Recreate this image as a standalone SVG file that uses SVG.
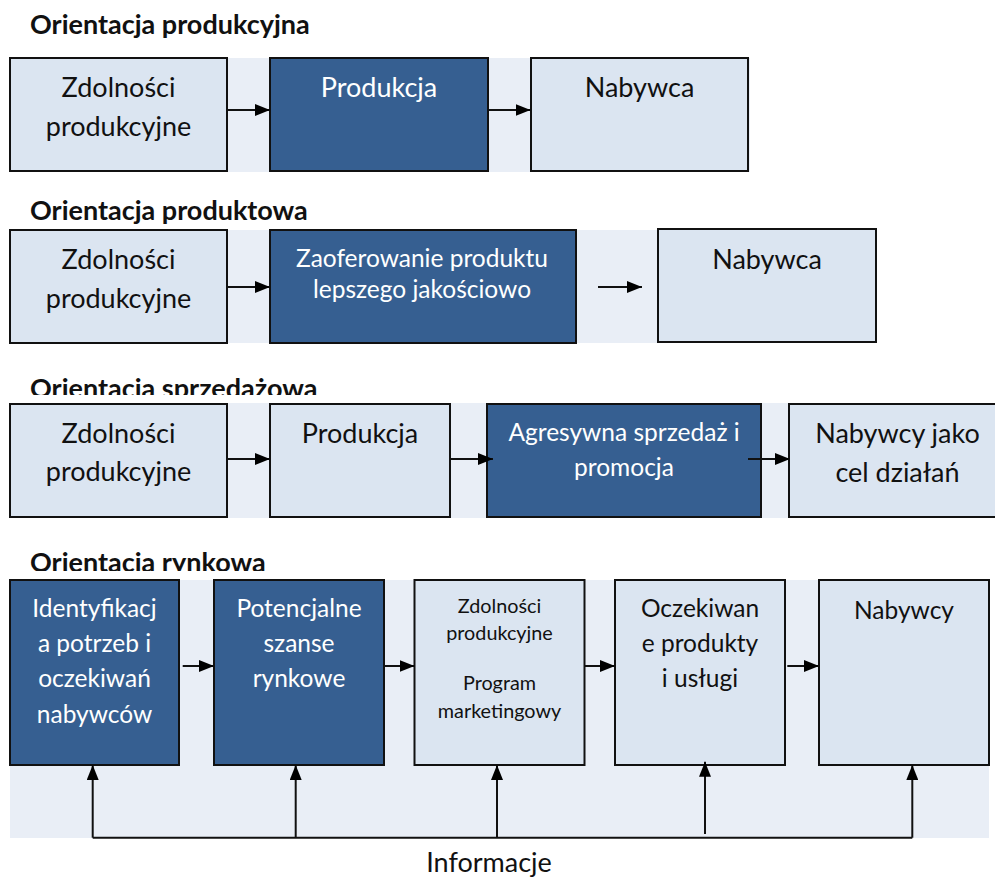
<svg xmlns="http://www.w3.org/2000/svg" width="995" height="878" viewBox="0 0 995 878">
<defs>
<style>
.band{fill:#E9EEF6}
.lt{fill:#DBE5F1;stroke:#111;stroke-width:2}
.dk{fill:#365F91;stroke:#111;stroke-width:2}
.t{font-family:Lato,"Liberation Sans",sans-serif;font-size:27px;fill:#111;text-anchor:middle}
.tw{font-family:Lato,"Liberation Sans",sans-serif;font-size:27px;fill:#fff;text-anchor:middle}
.s{font-size:24.5px}
.m{font-size:24.5px}
.xs{font-size:19.8px}
.inf{font-size:27px}
.h{font-family:Lato,"Liberation Sans",sans-serif;font-size:27px;font-weight:bold;fill:#111}
.c{stroke:#111;stroke-width:2;fill:none}
.a{marker-end:url(#ah)}
</style>
<marker id="ah" markerUnits="userSpaceOnUse" markerWidth="15" markerHeight="12" refX="15" refY="6" orient="auto">
<path d="M0,0 L15,6 L0,12 z" fill="#000"/>
</marker>
<clipPath id="c3"><rect x="0" y="360" width="995" height="35"/></clipPath>
<clipPath id="c4"><rect x="0" y="540" width="995" height="31"/></clipPath>
</defs>

<g id="section1">
<text class="h" x="30" y="34">Orientacja produkcyjna</text>
<rect class="band" x="10" y="58" width="740" height="114"/>
<g id="s1-zdolnosci"><rect class="lt" x="10" y="58" width="217" height="113"/><text class="t" x="118.5" y="97">Zdolności</text><text class="t" x="118.5" y="136">produkcyjne</text></g>
<g id="s1-produkcja"><rect class="dk" x="270" y="58" width="218" height="113"/><text class="tw" x="379" y="97">Produkcja</text></g>
<g id="s1-nabywca"><rect class="lt" x="531" y="58" width="217" height="113"/><text class="t" x="639.5" y="97">Nabywca</text></g>
</g>

<g id="section2">
<text class="h" x="30" y="220">Orientacja produktowa</text>
<rect class="band" x="10" y="230" width="866" height="113"/>
<g id="s2-zdolnosci"><rect class="lt" x="10" y="230" width="217" height="113"/><text class="t" x="118.5" y="269">Zdolności</text><text class="t" x="118.5" y="308">produkcyjne</text></g>
<g id="s2-zaoferowanie"><rect class="dk" x="270" y="230" width="306" height="113"/><text class="tw s" x="422" y="267">Zaoferowanie produktu</text><text class="tw s" x="422" y="298">lepszego jakościowo</text></g>
<g id="s2-nabywca"><rect class="lt" x="658" y="229" width="218" height="113"/><text class="t" x="767" y="269">Nabywca</text></g>
</g>

<g id="section3">
<text class="h" x="30" y="398" clip-path="url(#c3)">Orientacja sprzedażowa</text>
<rect class="band" x="10" y="403" width="985" height="115"/>
<g id="s3-zdolnosci"><rect class="lt" x="10" y="404" width="217" height="113"/><text class="t" x="118.5" y="443">Zdolności</text><text class="t" x="118.5" y="481">produkcyjne</text></g>
<g id="s3-produkcja"><rect class="lt" x="270" y="404" width="180" height="113"/><text class="t" x="360" y="443">Produkcja</text></g>
<g id="s3-agresywna"><rect class="dk" x="487" y="404" width="274" height="113"/><text class="tw s" x="624" y="441">Agresywna sprzedaż i</text><text class="tw s" x="624" y="476">promocja</text></g>
<g id="s3-nabywcy"><rect class="lt" x="789" y="404" width="220" height="113"/><text class="t" x="897.5" y="443">Nabywcy jako</text><text class="t" x="897.5" y="482">cel działań</text></g>
</g>

<g id="section4">
<text class="h" x="30" y="572" clip-path="url(#c4)">Orientacja rynkowa</text>
<rect class="band" x="10" y="580" width="979" height="258"/>
<g id="s4-identyfikacja"><rect class="dk" x="10" y="580" width="169" height="185"/><text class="tw m" x="94.5" y="617">Identyfikacj</text><text class="tw m" x="94.5" y="652">a potrzeb i</text><text class="tw m" x="94.5" y="687">oczekiwań</text><text class="tw m" x="94.5" y="723">nabywców</text></g>
<g id="s4-potencjalne"><rect class="dk" x="214" y="580" width="170" height="185"/><text class="tw m" x="299" y="617">Potencjalne</text><text class="tw m" x="299" y="652">szanse</text><text class="tw m" x="299" y="687">rynkowe</text></g>
<g id="s4-zdolnosci"><rect class="lt" x="414.5" y="580" width="170" height="185"/><text class="t xs" x="499.5" y="612.5">Zdolności</text><text class="t xs" x="499.5" y="640">produkcyjne</text><text class="t xs" x="499.5" y="690">Program</text><text class="t xs" x="499.5" y="718">marketingowy</text></g>
<g id="s4-oczekiwane"><rect class="lt" x="615" y="580" width="170" height="185"/><text class="t m" x="700" y="617">Oczekiwan</text><text class="t m" x="700" y="652">e produkty</text><text class="t m" x="700" y="687">i usługi</text></g>
<g id="s4-nabywcy"><rect class="lt" x="819" y="580" width="170" height="185"/><text class="t m" x="904" y="619">Nabywcy</text></g>
<text id="informacje" class="t inf" x="489" y="872">Informacje</text>
</g>

<g id="connectors">
<line class="c a" x1="227" y1="110" x2="270" y2="110"/>
<line class="c a" x1="488" y1="110" x2="530.5" y2="110"/>
<line class="c a" x1="227" y1="287" x2="270" y2="287"/>
<line class="c a" x1="598" y1="287" x2="642" y2="287"/>
<line class="c a" x1="227" y1="459" x2="270" y2="459"/>
<line class="c a" x1="451" y1="459" x2="493" y2="459"/>
<line class="c a" x1="748" y1="459" x2="790" y2="459"/>
<line class="c a" x1="182.7" y1="666" x2="214" y2="666"/>
<line class="c a" x1="384" y1="666" x2="414.5" y2="666"/>
<line class="c a" x1="584.5" y1="666" x2="615" y2="666"/>
<line class="c a" x1="787.3" y1="666" x2="819" y2="666"/>
<line class="c" x1="92.7" y1="837.7" x2="912.3" y2="837.7"/>
<line class="c a" x1="92.7" y1="837.7" x2="92.7" y2="765"/>
<line class="c a" x1="295.7" y1="837.7" x2="295.7" y2="765"/>
<line class="c a" x1="497" y1="837.7" x2="497" y2="765"/>
<line class="c a" x1="705" y1="834" x2="705" y2="761.7"/>
<line class="c a" x1="912.3" y1="837.7" x2="912.3" y2="765"/>
</g>
</svg>
